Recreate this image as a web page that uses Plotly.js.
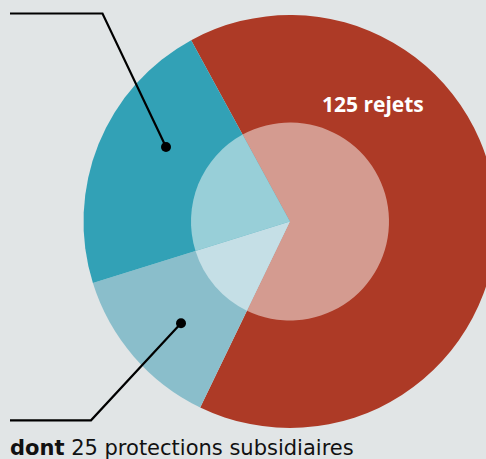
<!DOCTYPE html>
<html>
<head>
<meta charset="utf-8">
<script src="https://cdn.plot.ly/plotly-3.0.1.min.js"></script>
<style>
  html, body { margin: 0; padding: 0; overflow: hidden; background: #e1e5e6; }
  #chart { width: 500px; height: 459px; }
</style>
</head>
<body>
<div id="chart"></div>
<script>
// Décisions : rejets, protections subsidiaires, statuts de réfugié (sens horaire)
const categories = ['Rejets', 'Protections subsidiaires', 'Statuts de réfugié'];
const values = [125, 25, 42];
const outerColors = ['#ad3a26', '#8abecb', '#32a1b6'];
const innerColors = ['#d49b90', '#c5dfe6', '#98cfd8'];

const W = 500, H = 459;
const px = x => x / W;
const py = y => 1 - y / H;

// Pie centre and radii in pixels
const cx = 290, cy = 221.5, rOuter = 206.5, rInner = 99;

function domainFor(r) {
  return {
    x: [px(cx - r), px(cx + r)],
    y: [py(cy + r), py(cy - r)]
  };
}

const common = {
  type: 'pie',
  labels: categories,
  values: values,
  sort: false,
  direction: 'clockwise',
  rotation: -28.6,
  textinfo: 'none',
  hoverinfo: 'label+value',
  showlegend: false
};

const traces = [
  Object.assign({}, common, {
    domain: domainFor(rOuter),
    marker: { colors: outerColors, line: { width: 0 } }
  }),
  Object.assign({}, common, {
    domain: domainFor(rInner),
    marker: { colors: innerColors, line: { width: 0 } }
  })
];

const lineStyle = { color: '#000', width: 2.2 };
const shapes = [
  { type: 'path', xref: 'paper', yref: 'paper',
    path: `M ${px(10)} ${py(13.5)} L ${px(102.5)} ${py(13.5)} L ${px(166)} ${py(147)}`,
    line: lineStyle },
  { type: 'circle', xref: 'paper', yref: 'paper',
    x0: px(161), x1: px(171), y0: py(152), y1: py(142),
    fillcolor: '#000', line: { width: 0 } },
  { type: 'path', xref: 'paper', yref: 'paper',
    path: `M ${px(10)} ${py(420.3)} L ${px(91)} ${py(420.3)} L ${px(181)} ${py(323.3)}`,
    line: lineStyle },
  { type: 'circle', xref: 'paper', yref: 'paper',
    x0: px(176), x1: px(186), y0: py(328.3), y1: py(318.3),
    fillcolor: '#000', line: { width: 0 } }
];

const annotations = [
  { xref: 'paper', yref: 'paper', x: px(320), y: py(104), xanchor: 'left', yanchor: 'middle',
    text: '<b>' + values[0] + ' rejets</b>', showarrow: false,
    font: { family: 'Open Sans, sans-serif', size: 21, color: '#ffffff' } },
  { xref: 'paper', yref: 'paper', x: px(8), y: py(447.5), xanchor: 'left', yanchor: 'middle',
    text: '<b>dont</b> ' + values[1] + ' protections subsidiaires', showarrow: false,
    font: { family: 'DejaVu Sans, sans-serif', size: 21, color: '#111111' } }
];

const layout = {
  width: W, height: H,
  margin: { l: 0, r: 0, t: 0, b: 0 },
  paper_bgcolor: '#e1e5e6',
  plot_bgcolor: '#e1e5e6',
  shapes: shapes,
  annotations: annotations
};

Plotly.newPlot('chart', traces, layout, { displayModeBar: false, staticPlot: true });
</script>
</body>
</html>
